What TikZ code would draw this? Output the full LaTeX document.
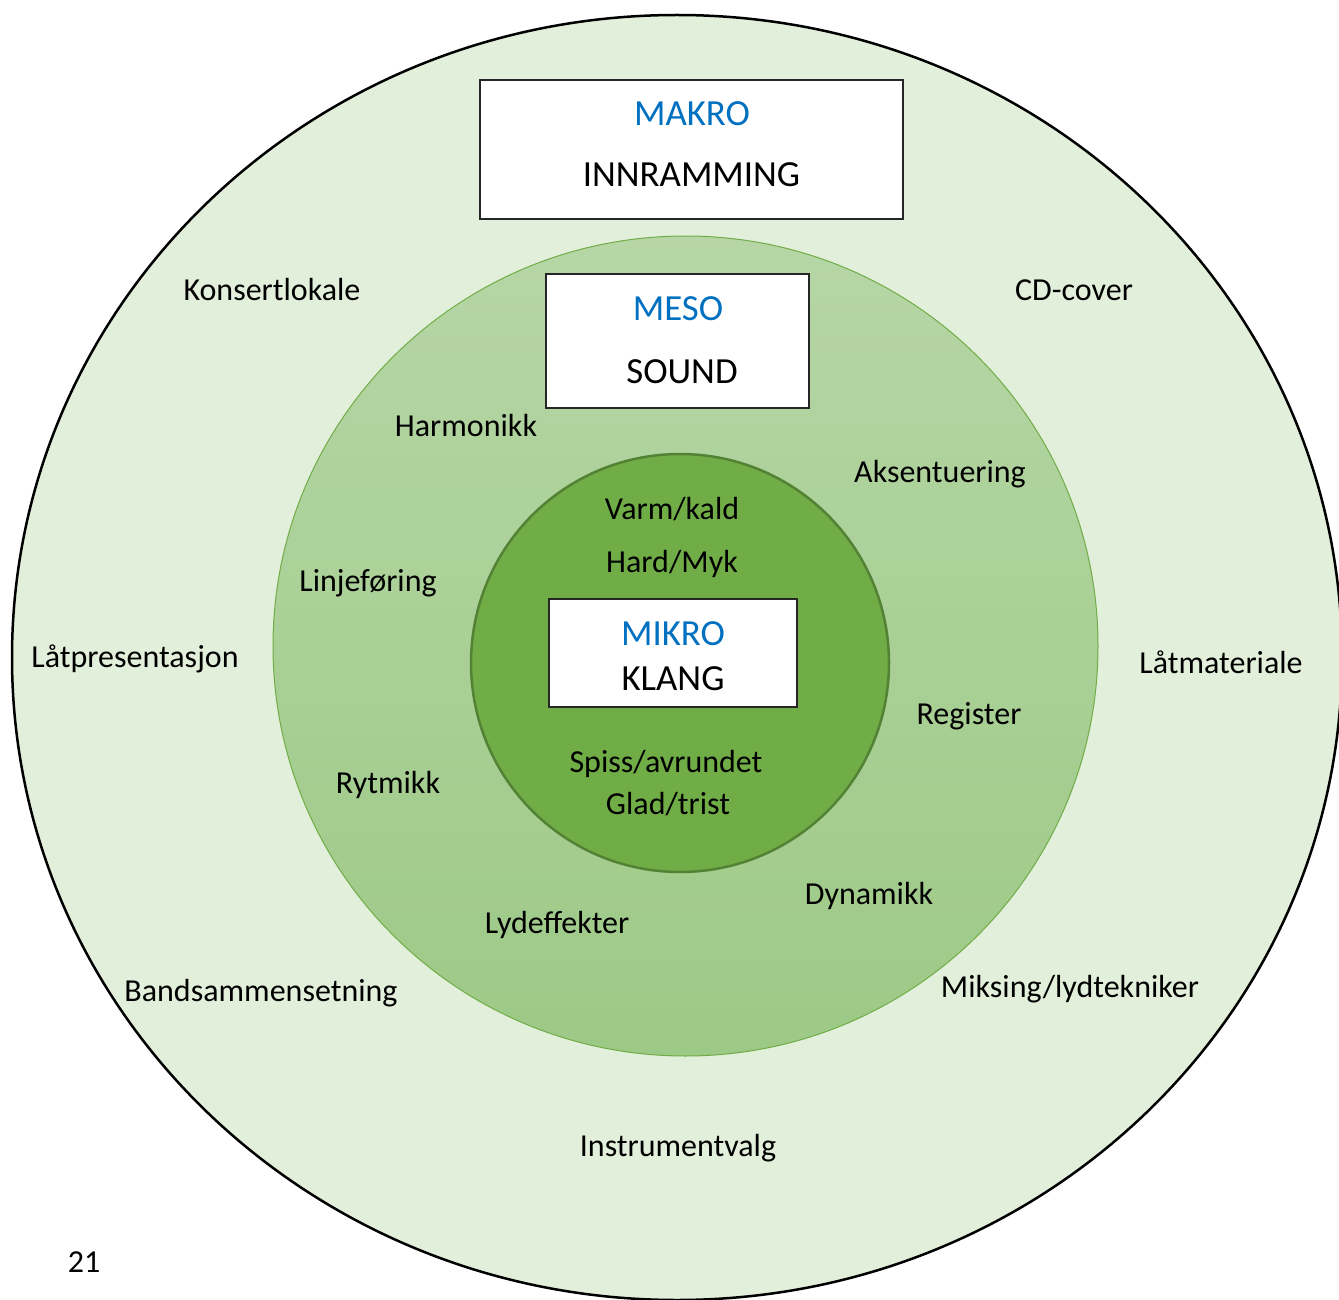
\documentclass[tikz,border=0pt]{standalone}
\usepackage{fontspec}
\setmainfont{Carlito}
\definecolor{outerfill}{RGB}{226,239,218}
\definecolor{midtop}{RGB}{182,214,166}
\definecolor{midbot}{RGB}{157,201,134}
\definecolor{midline}{RGB}{112,173,71}
\definecolor{innerfill}{RGB}{112,173,71}
\definecolor{innerline}{RGB}{84,130,53}
\definecolor{levelblue}{RGB}{0,112,192}
\begin{document}
\begin{tikzpicture}[x=0.5pt,y=-0.5pt,
  label/.style={anchor=base,inner sep=0pt,font=\fontsize{16}{19}\selectfont},
  level/.style={anchor=base,inner sep=0pt,text=levelblue,font=\fontsize{18.4}{22}\selectfont},
  title/.style={anchor=base,inner sep=0pt,font=\fontsize{18.4}{22}\selectfont},
  levelbox/.style={draw=black!85,line width=0.6pt,fill=white,inner sep=0pt,rectangle},
]
\useasboundingbox (0,0) rectangle (1339,1300);
\clip (0,0) rectangle (1339,1300);

% outer ring: MAKRO
\filldraw[fill=outerfill,draw=black,line width=1.25pt]
  (677,657.5) ellipse [x radius=665,y radius=642.5];

% middle ring: MESO
\shade[top color=midtop,bottom color=midbot]
  (685.5,646) ellipse [x radius=412.5,y radius=410];
\draw[midline,line width=0.5pt]
  (685.5,646) ellipse [x radius=412.5,y radius=410];

% core: MIKRO
\filldraw[fill=innerfill,draw=innerline,line width=1.25pt]
  (680,663) circle [radius=209];

% level boxes
\node[levelbox,minimum width=211.5pt,minimum height=69.5pt] (makrobox) at (691.5,149.5) {};
\node[levelbox,minimum width=131.5pt,minimum height=67pt] (mesobox) at (677.5,341) {};
\node[levelbox,minimum width=124pt,minimum height=54pt] (mikrobox) at (673,653) {};

\node[level] (makro) at (692,126) {MAKRO};
\node[title] (innramming) at (691.5,187) {INNRAMMING};
\node[level] (meso) at (678,321) {MESO};
\node[title] (sound) at (682,383) {SOUND};
\node[level] (mikro) at (673,645) {MIKRO};
\node[title] (klang) at (673,690) {KLANG};

% outer ring labels
\node[label] (konsert) at (272,301) {Konsertlokale};
\node[label] (cdcover) at (1074,301) {CD-cover};
\node[label] (latpres) at (135,667) {Låtpresentasjon};
\node[label] (latmat) at (1221,673) {Låtmateriale};
\node[label] (band) at (261,1001) {Bandsammensetning};
\node[label] (miksing) at (1070,997) {Miksing/lydtekniker};
\node[label] (instr) at (678,1156) {Instrumentvalg};

% middle ring labels
\node[label] (harm) at (466,437) {Harmonikk};
\node[label] (aksent) at (940,482) {Aksentuering};
\node[label] (linje) at (368,591) {Linjeføring};
\node[label] (register) at (969,724) {Register};
\node[label] (rytmikk) at (388,793) {Rytmikk};
\node[label] (dynamikk) at (869,904) {Dynamikk};
\node[label] (lydeff) at (557,933) {Lydeffekter};

% core labels
\node[label] (varm) at (672,519) {Varm/kald};
\node[label] (hard) at (672,572) {Hard/Myk};
\node[label] (spiss) at (666,772) {Spiss/avrundet};
\node[label] (glad) at (668,814) {Glad/trist};

% page number
\node[label] (page) at (84,1272) {21};
\end{tikzpicture}
\end{document}
